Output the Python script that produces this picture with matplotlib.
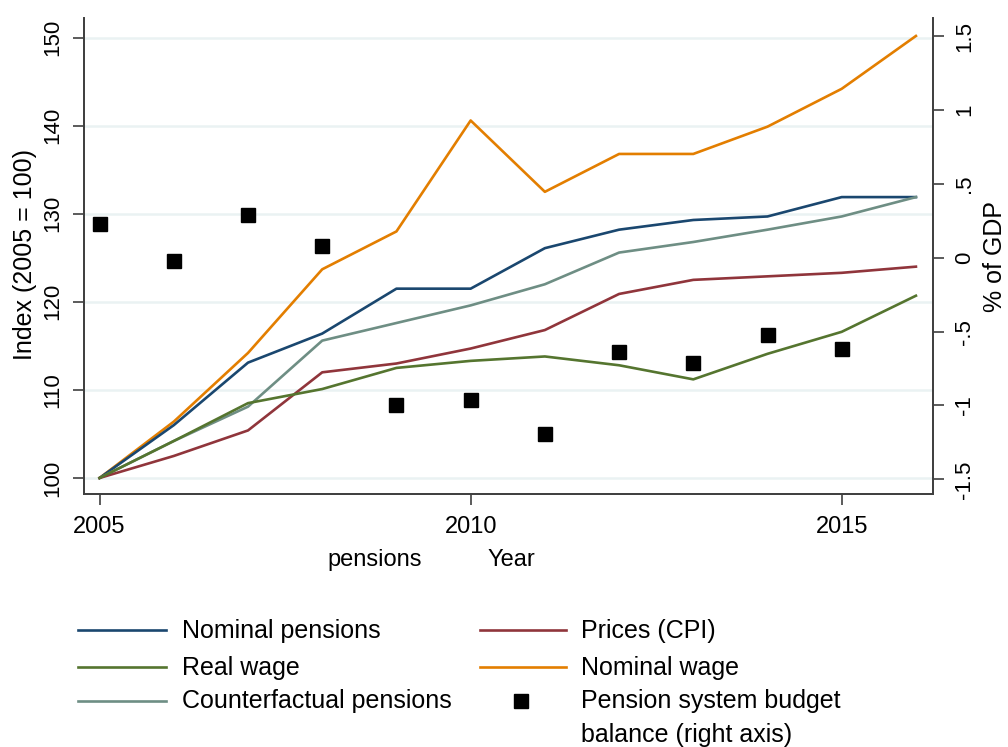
import numpy as np
import matplotlib
matplotlib.use("Agg")
import matplotlib.pyplot as plt
from matplotlib.lines import Line2D

plt.rcParams['font.family'] = ['Liberation Sans', 'DejaVu Sans']

# values
years = [2005, 2006, 2007, 2008, 2009, 2010, 2011, 2012, 2013, 2014, 2015, 2016]
nominal_pensions = [100, 106.0, 113.1, 116.4, 121.5, 121.5, 126.1, 128.2, 129.3, 129.7, 131.9, 131.9]
prices_cpi = [100, 102.5, 105.4, 112.0, 113.0, 114.7, 116.8, 120.9, 122.5, 122.9, 123.3, 124.0]
real_wage = [100, 104.2, 108.5, 110.1, 112.5, 113.3, 113.8, 112.8, 111.2, 114.1, 116.6, 120.7]
nominal_wage = [100, 106.4, 114.2, 123.7, 128.0, 140.6, 132.5, 136.8, 136.8, 139.9, 144.2, 150.2]
counterfactual = [100, 104.2, 108.1, 115.6, 117.6, 119.6, 122.0, 125.6, 126.8, 128.2, 129.7, 131.9]
budget_years = [2005, 2006, 2007, 2008, 2009, 2010, 2011, 2012, 2013, 2014, 2015]
budget_balance = [0.23, -0.02, 0.29, 0.08, -1.00, -0.96, -1.19, -0.64, -0.71, -0.52, -0.62]

left_ticks = [100, 110, 120, 130, 140, 150]
right_ticks = [-1.5, -1, -0.5, 0, 0.5, 1, 1.5]
right_labels = ['-1.5', '-1', '-.5', '0', '.5', '1', '1.5']
x_ticks = [2005, 2010, 2015]

c_navy = '#1a476f'
c_maroon = '#90353b'
c_green = '#55752f'
c_orange = '#e37e00'
c_teal = '#6e8e84'
c_axis = '#404040'
c_grid = '#eaf2f3'

W, H = 1008, 747
fig = plt.figure(figsize=(W / 100, H / 100), dpi=100)
ax = fig.add_axes([84 / W, 1 - 494 / H, (933 - 84) / W, (494 - 18) / H])
ax2 = ax.twinx()

ax.set_xlim(2004.79, 2016.23)
ax.set_ylim(98.18, 152.24)
ax2.set_ylim(-1.599, 1.622)

for v in left_ticks:
    ax.axhline(v, color=c_grid, lw=1.8, zorder=0)

lw = 1.9
ax.plot(years, nominal_wage, color=c_orange, lw=lw, zorder=3)
ax.plot(years, nominal_pensions, color=c_navy, lw=lw, zorder=3)
ax.plot(years, counterfactual, color=c_teal, lw=lw, zorder=3)
ax.plot(years, prices_cpi, color=c_maroon, lw=lw, zorder=3)
ax.plot(years, real_wage, color=c_green, lw=lw, zorder=3)
ax2.plot(budget_years, budget_balance, 's', color='black', ms=10, zorder=4)

# axes styling
for a in (ax, ax2):
    a.spines['top'].set_visible(False)
    for s in ('left', 'right', 'bottom'):
        a.spines[s].set_color(c_axis)
        a.spines[s].set_linewidth(1.3)

ax.set_xticks(x_ticks)
ax.set_xticklabels([str(x) for x in x_ticks])
ax.set_yticks(left_ticks)
ax.tick_params(axis='x', length=8, width=1.2, color=c_axis, pad=8, labelsize=17)
ax.tick_params(axis='y', length=8, width=1.2, color=c_axis, pad=7, labelsize=16, labelrotation=90)
for t in ax.get_yticklabels():
    t.set_va('center')

ax2.set_yticks(right_ticks)
ax2.set_yticklabels(right_labels)
ax2.tick_params(axis='y', length=8, width=1.2, color=c_axis, pad=7, labelsize=16, labelrotation=90)
for t in ax2.get_yticklabels():
    t.set_va('center')

# axis titles
fig.text(13 / W, 1 - 255 / H, 'Index (2005 = 100)', rotation=90, ha='left', va='center', fontsize=18)
fig.text(1007 / W, 1 - 256 / H, '% of GDP', rotation=90, ha='right', va='center', fontsize=18)

fig.text(327 / W, 1 - 566 / H, 'pensions', ha='left', va='baseline', fontsize=17)
fig.text(488 / W, 1 - 566 / H, 'Year', ha='left', va='baseline', fontsize=17)

# legend drawn below the plot
def key_line(x0, x1, y, color):
    fig.add_artist(Line2D([x0 / W, x1 / W], [1 - y / H, 1 - y / H], color=color, lw=lw,
                          transform=fig.transFigure))

def key_text(x, y, s):
    fig.text(x / W, 1 - y / H, s, ha='left', va='baseline', fontsize=18)

key_line(78, 166, 630, c_navy)
key_text(182, 638, 'Nominal pensions')
key_line(480, 566, 630, c_maroon)
key_text(581, 638, 'Prices (CPI)')
key_line(78, 166, 667, c_green)
key_text(182, 675, 'Real wage')
key_line(480, 566, 667, c_orange)
key_text(581, 675, 'Nominal wage')
key_line(78, 166, 701, c_teal)
key_text(182, 708, 'Counterfactual pensions')
fig.add_artist(Line2D([521 / W], [1 - 701 / H], marker='s', color='black', ms=10, ls='none',
                      transform=fig.transFigure))
key_text(581, 708, 'Pension system budget')
key_text(581, 742, 'balance (right axis)')

fig.savefig('out.png', dpi=100)
